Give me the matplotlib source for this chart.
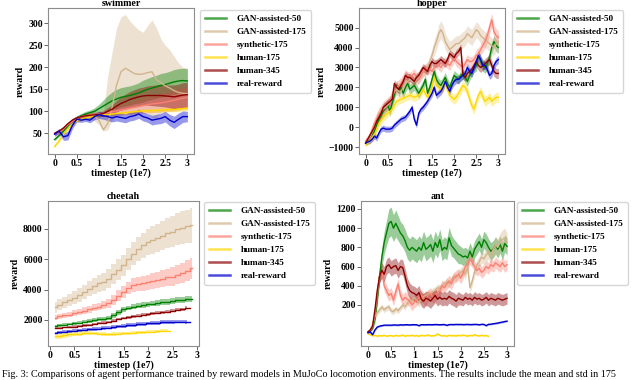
import numpy as np
import matplotlib
matplotlib.use("Agg")
import matplotlib.pyplot as plt
from matplotlib.lines import Line2D

nan = np.nan

labels = ["GAN-assisted-50", "GAN-assisted-175", "synthetic-175", "human-175", "human-345", "real-reward"]
colors = ["green", "tan", "salmon", "gold", "darkred", "mediumblue"]
titles = ["swimmer", "hopper", "cheetah", "ant"]

# ---------------- swimmer (t = 0 .. 3.0 step 0.1) ----------------
swimmer_t = np.linspace(0, 3.0, 31)
swimmer_gan50 = [36, 45, 55, 67, 78, 85, 90, 94, 97, 100, 106, 112, 118, 124, 128, 132, 134, 136, 139, 142,
                 146, 150, 153, 156, 159, 161, 164, 167, 169, 170, 169]
swimmer_gan50_w = [3, 3, 4, 4, 5, 5, 5, 6, 6, 8, 10, 14, 18, 20, 22, 22, 22, 22, 22, 23,
                   25, 25, 26, 26, 27, 27, 27, 28, 28, 28, 28]
swimmer_gan175 = [50, 55, 62, 70, 78, 85, 88, 90, 91, 90, 80, 58, 72, 110, 160, 190, 198, 192, 186, 184,
                  185, 188, 190, 172, 165, 158, 153, 147, 143, 141, 140]
swimmer_gan175_lo = [45, 50, 57, 65, 73, 80, 82, 83, 82, 78, 70, 55, 58, 80, 92, 95, 98, 100, 100, 100,
                     102, 98, 86, 86, 98, 104, 100, 100, 102, 104, 104]
swimmer_gan175_hi = [55, 60, 67, 75, 83, 90, 94, 97, 100, 102, 100, 95, 180, 235, 290, 315, 320, 305, 295, 285,
                     280, 295, 308, 290, 265, 250, 240, 225, 210, 200, 198]
swimmer_synth175 = [48, 52, 60, 70, 78, 84, 88, 90, 92, 93, 94, 95, 97, 99, 101, 103, 105, 107, 109, 111,
                    113, 115, 117, 118, 119, 121, 123, 125, 128, 130, 132]
swimmer_synth175_w = [3, 3, 3, 4, 4, 4, 4, 5, 5, 5, 6, 7, 8, 10, 11, 12, 13, 14, 16, 17,
                      18, 19, 20, 20, 21, 22, 22, 23, 24, 24, 25]
swimmer_human175 = [20, 33, 48, 60, 70, 78, 82, 85, 87, 89, 91, 92, 93, 94, 95, 96, 97, 98, 99, 100,
                    101, 101, 102, 102, 103, 103, 104, 104, 105, 106, 107]
swimmer_human175_w = [3, 3, 3, 3, 3, 3, 3, 3, 3, 3, 3, 3, 3, 3, 3, 4, 4, 4, 4, 4,
                      4, 4, 4, 4, 4, 5, 5, 5, 5, 5, 5]
swimmer_human345 = [50, 55, 62, 72, 80, 85, 88, 90, 91, 92, 93, 95, 100, 105, 112, 118, 122, 127, 130, 133,
                    135, 136, 136, 136, 136, 135, 134, 133, 135, 137, 138]
swimmer_human345_w = [3, 3, 3, 3, 4, 4, 4, 4, 5, 5, 5, 6, 8, 10, 13, 15, 17, 18, 19, 20,
                      20, 22, 23, 24, 25, 25, 26, 27, 27, 28, 28]
swimmer_real = [48, 55, 42, 45, 68, 82, 80, 82, 80, 88, 92, 90, 88, 85, 88, 86, 84, 88, 90, 94,
                88, 85, 80, 82, 84, 88, 80, 75, 82, 88, 88]
swimmer_real_w = [5, 6, 8, 10, 8, 6, 5, 5, 6, 7, 8, 8, 9, 9, 10, 10, 10, 10, 10, 10,
                  10, 10, 11, 11, 12, 12, 13, 14, 14, 13, 12]

# ---------------- hopper (t = 0 .. 3.0 step 0.05) ----------------
hopper_t = np.linspace(0, 3.0, 61)
hopper_gan50 = [-800, -650, -500, -350, -200, 100, 400, 600, 800, 1000,
                1100, 800, 1200, 1600, 2100, 1800, 2000, 1700, 2000, 2200,
                1900, 2000, 2100, 1900, 1700, 1900, 2100, 2400, 1700, 2000,
                2400, 2800, 2400, 2200, 2100, 2300, 2500, 2200, 2000, 2300,
                2600, 2500, 2400, 2600, 2700, 2500, 2300, 2600, 2800, 3000,
                3100, 3600, 3300, 3100, 3000, 3200, 3500, 4000, 4300, 4100,
                4000]
hopper_gan175 = [-800, -650, -500, -250, 0, 400, 700, 800, 900, 1000,
                 1100, 1300, 1600, 1800, 1900, 1800, 1800, 2000, 2200, 2300,
                 2400, 2300, 2300, 2400, 2500, 2700, 2800, 2900, 3000, 3300,
                 3600, 4000, 4300, 4700, 4900, 4700, 4300, 4100, 3900, 4000,
                 4100, 4200, 4200, 4300, 4400, 4500, 4700, 4600, 4500, 4700,
                 4900, 4800, 4600, 4500, 4400, 4300, 4200, 4100, 4000, 4200,
                 4300]
hopper_synth175 = [-700, -550, -400, -100, 200, 400, 600, 800, 1000, 1100,
                   1200, 1300, 1500, 1800, 2000, 2100, 2200, 2400, 2600, 2500,
                   2500, 2600, 2700, 2500, 2400, 2600, 2800, 2900, 3000, 2900,
                   2800, 3000, 3200, 3100, 3000, 3200, 3300, 3200, 3100, 3300,
                   3500, 3300, 3200, 3100, 3000, 3200, 3400, 3300, 3300, 3400,
                   3600, 3700, 3900, 4100, 4300, 4600, 5000, 5400, 4800, 4600,
                   4500]
hopper_human175 = [-900, -800, -700, -550, -400, -100, 200, 350, 500, 600,
                   700, 800, 900, 1100, 1300, 1350, 1400, 1450, 1500, 1550,
                   1600, 1550, 1500, 1550, 1600, 1700, 1900, 1700, 1500, 1700,
                   2000, 2500, 2100, 2000, 1900, 2000, 2200, 1900, 1600, 1500,
                   1400, 1500, 1700, 1900, 2100, 2000, 1800, 1400, 1100, 900,
                   1300, 1600, 1800, 1500, 1300, 1400, 1500, 1300, 1400, 1500,
                   1500]
hopper_human345 = [-800, -600, -400, -200, 0, 300, 500, 700, 1000, 1100,
                   1200, 1300, 1400, 2200, 2000, 1900, 2100, 2300, 2600, 2500,
                   2500, 2400, 2300, 2500, 2600, 2800, 3000, 2900, 2800, 3100,
                   3300, 3200, 3200, 3300, 3400, 3300, 3200, 3400, 3700, 3600,
                   3500, 3700, 3800, 4000, 2600, 2500, 2700, 2800, 2900, 3100,
                   3300, 3100, 3000, 3100, 3200, 3300, 3400, 3100, 2800, 2700,
                   2700]
hopper_real = [-800, -750, -700, -600, -450, -550, -300, -100, -50, -100,
               -100, -100, -50, 100, 200, 300, 400, 450, 500, 650,
               800, 1000, 400, 100, 700, 900, 1000, 1150, 1300, 1500,
               1700, 2000, 1600, 1700, 1800, 2000, 2300, 2000, 1800, 2100,
               2300, 2400, 2400, 2500, 2600, 2700, 3000, 2800, 2700, 3000,
               3300, 3600, 3400, 3100, 3100, 2900, 2600, 2700, 3100, 3300,
               3400]
hopper_gan50_w = [100, 100, 150, 150, 200, 200, 200, 250, 250, 250,
                  250, 250, 250, 250, 250, 250, 250, 250, 250, 250,
                  250, 250, 250, 250, 250, 250, 250, 250, 250, 250,
                  250, 250, 250, 250, 250, 250, 250, 250, 250, 250,
                  250, 250, 250, 250, 250, 250, 250, 250, 250, 250,
                  300, 300, 300, 300, 300, 300, 300, 300, 300, 300,
                  300]
hopper_gan175_w = [150, 150, 200, 250, 300, 300, 300, 300, 300, 300,
                   300, 300, 300, 300, 300, 300, 300, 300, 300, 300,
                   300, 300, 300, 300, 300, 300, 300, 300, 300, 300,
                   350, 400, 400, 450, 450, 450, 400, 400, 400, 400,
                   400, 400, 400, 400, 400, 400, 400, 400, 400, 400,
                   400, 400, 400, 400, 400, 400, 400, 400, 400, 400,
                   400]
hopper_synth175_w = [150, 150, 200, 250, 300, 300, 300, 300, 300, 300,
                     300, 300, 300, 300, 300, 300, 300, 300, 300, 300,
                     250, 250, 250, 250, 250, 250, 250, 250, 250, 250,
                     250, 250, 250, 250, 250, 250, 250, 250, 250, 250,
                     250, 250, 250, 250, 250, 250, 250, 250, 250, 250,
                     300, 300, 300, 300, 350, 350, 350, 350, 350, 350,
                     350]
hopper_human175_w = [100, 100, 150, 150, 200, 200, 200, 200, 200, 200,
                     200, 200, 200, 200, 200, 200, 200, 200, 200, 200,
                     200, 200, 200, 200, 200, 200, 200, 200, 200, 200,
                     250, 250, 250, 250, 250, 250, 250, 250, 250, 250,
                     250, 250, 250, 250, 250, 250, 250, 250, 250, 250,
                     250, 250, 250, 250, 250, 250, 250, 250, 250, 250,
                     250]
hopper_human345_w = [100, 100, 150, 150, 200, 200, 200, 200, 200, 200,
                     200, 200, 200, 200, 200, 200, 200, 200, 200, 200,
                     200, 200, 200, 200, 200, 200, 200, 200, 200, 200,
                     200, 200, 200, 200, 200, 200, 200, 200, 200, 200,
                     200, 200, 200, 200, 200, 200, 200, 200, 200, 200,
                     250, 250, 250, 250, 250, 250, 250, 250, 250, 250,
                     250]
hopper_real_w = [100, 100, 120, 120, 150, 150, 150, 150, 150, 150,
                 150, 150, 150, 150, 150, 150, 150, 150, 150, 150,
                 150, 150, 150, 150, 150, 150, 150, 150, 150, 150,
                 180, 180, 180, 180, 180, 180, 180, 180, 180, 180,
                 200, 200, 200, 200, 200, 200, 200, 200, 200, 200,
                 200, 200, 200, 200, 200, 200, 200, 200, 200, 200,
                 200]

# ---------------- cheetah (t = 0.1 .. 2.9 step 0.1) ----------------
cheetah_t = np.linspace(0.1, 2.9, 29)
cheetah_gan50 = [1600, 1640, 1680, 1730, 1780, 1830, 1880, 1930, 1990, 2050,
                 2080, 2120, 2300, 2500, 2700, 2790, 2870, 2930, 2980, 3030,
                 3080, 3120, 3160, 3200, 3250, 3300, 3340, 3370, 3400]
cheetah_gan50_w = [80, 80, 90, 90, 100, 100, 110, 110, 120, 120,
                   130, 130, 140, 150, 150, 160, 160, 170, 170, 180,
                   180, 190, 190, 190, 200, 200, 200, 200, 200]
cheetah_gan175 = [2830, 3000, 3150, 3300, 3450, 3650, 3850, 4050, 4250, 4400,
                  4500, 4700, 5000, 5300, 5600, 6000, 6350, 6650, 6900, 7100,
                  7250, 7400, 7550, 7700, 7800, 7950, 8050, 8150, 8240]
cheetah_gan175_w = [350, 370, 390, 410, 430, 450, 470, 500, 530, 560,
                    590, 620, 650, 680, 700, 730, 760, 790, 820, 860,
                    900, 930, 960, 990, 1020, 1050, 1080, 1110, 1150]
cheetah_synth175 = [2150, 2230, 2300, 2360, 2440, 2530, 2620, 2710, 2800, 2880,
                    2980, 3100, 3300, 3600, 3860, 4100, 4300, 4380, 4410, 4480,
                    4560, 4640, 4720, 4800, 4850, 4980, 5100, 5250, 5390]
cheetah_synth175_w = [150, 160, 170, 180, 190, 200, 210, 220, 230, 250,
                      260, 280, 320, 360, 400, 420, 440, 460, 480, 500,
                      520, 540, 560, 580, 600, 620, 650, 680, 700]
cheetah_human175 = [950, 980, 1010, 1050, 1080, 1110, 1150, 1160, 1120, 1100,
                    1080, 1070, 1080, 1100, 1120, 1140, 1160, 1180, 1200, 1220,
                    1240, 1260, 1290, 1300, nan, nan, nan, nan, nan]
cheetah_human175_w = [200, 200, 180, 160, 150, 140, 130, 120, 110, 110,
                      100, 100, 100, 100, 100, 100, 100, 100, 100, 100,
                      100, 100, 100, 100, nan, nan, nan, nan, nan]
cheetah_human345 = [1450, 1480, 1510, 1540, 1570, 1600, 1640, 1680, 1720, 1790,
                    1830, 1870, 1960, 2060, 2130, 2180, 2230, 2280, 2330, 2390,
                    2430, 2470, 2510, 2550, 2610, 2660, 2710, 2800, nan]
cheetah_human345_w = [60, 60, 60, 70, 70, 70, 70, 80, 80, 80,
                      80, 80, 90, 90, 90, 90, 90, 100, 100, 100,
                      100, 100, 100, 100, 100, 100, 100, 100, nan]
cheetah_real = [1150, 1180, 1220, 1260, 1290, 1320, 1350, 1380, 1400, 1440,
                1470, 1500, 1540, 1580, 1620, 1650, 1680, 1710, 1740, 1770,
                1800, 1830, 1850, 1870, 1890, 1900, 1900, 1890, nan]
cheetah_real_w = [80, 80, 90, 90, 100, 100, 100, 110, 110, 110,
                  110, 120, 120, 120, 120, 120, 120, 130, 130, 130,
                  130, 130, 130, 130, 130, 130, 130, 130, nan]

# ---------------- ant (t = 0 .. 3.0 step 0.05) ----------------
ant_t = np.linspace(0, 3.0, 61)
ant_gan50 = [-80, -70, -40, 50, 250, 500, 700, 850, 950, 1050,
             1070, 1000, 1050, 1000, 950, 920, 870, 800, 770, 800,
             780, 760, 800, 770, 850, 780, 800, 830, 760, 850,
             800, 880, 770, 800, 780, 900, 820, 790, 760, 730,
             720, 700, 710, 690, 760, 700, 780, 820, 860, 800,
             880, 850, 800, 760, 780, 820, 780, 830, 760, 840,
             810]
ant_gan50_w = [10, 10, 20, 40, 60, 80, 100, 120, 130, 150,
               150, 140, 140, 130, 120, 120, 120, 120, 120, 120,
               120, 120, 120, 120, 120, 120, 120, 120, 120, 120,
               110, 110, 110, 110, 110, 110, 110, 100, 100, 100,
               90, 90, 90, 90, 90, 90, 90, 90, 90, 90,
               90, 90, 90, 90, 90, 90, 90, 90, 90, 90,
               90]
ant_gan175 = [-80, -60, 0, 80, 120, 150, 180, 150, 170, 180,
              140, 130, 160, 140, 170, 200, 180, 220, 250, 240,
              280, 250, 220, 260, 290, 300, 320, 310, 340, 350,
              380, 370, 400, 420, 440, 420, 460, 500, 480, 520,
              540, 560, 520, 600, 380, 450, 550, 620, 650, 700,
              680, 720, 750, 700, 780, 820, 800, 850, 880, 900,
              850]
ant_gan175_w = [10, 10, 20, 20, 30, 30, 30, 30, 30, 30,
                30, 30, 30, 30, 30, 30, 30, 30, 30, 30,
                40, 40, 40, 40, 40, 40, 40, 40, 40, 40,
                40, 40, 40, 40, 40, 40, 40, 40, 40, 40,
                50, 50, 50, 50, 50, 50, 50, 50, 60, 60,
                60, 70, 70, 80, 80, 90, 90, 100, 100, 100,
                100]
ant_synth175 = [-80, -60, -30, 100, 300, 500, 550, 400, 350, 300,
                320, 250, 340, 420, 300, 250, 280, 260, 240, 200,
                230, 250, 280, 300, 270, 250, 300, 320, 280, 300,
                330, 350, 400, 380, 420, 450, 420, 480, 500, 520,
                480, 530, 600, 620, 680, 650, 600, 560, 580, 540,
                560, 600, 580, 620, 600, 640, 620, 600, 640, 600,
                620]
ant_synth175_w = [10, 10, 20, 30, 50, 60, 60, 60, 60, 60,
                  60, 60, 60, 60, 60, 60, 60, 60, 60, 60,
                  60, 60, 60, 60, 60, 60, 60, 60, 60, 60,
                  60, 60, 60, 60, 60, 60, 60, 60, 60, 60,
                  60, 60, 60, 60, 60, 60, 60, 60, 60, 60,
                  60, 60, 60, 60, 60, 60, 60, 60, 60, 60,
                  60]
ant_human175 = [-100, -110, -120, -115, -125, -118, -122, -115, -125, -120,
                -118, -125, -115, -122, -120, -112, -125, -118, -120, -115,
                -122, -118, -125, -115, -120, -118, -112, -122, -120, -118,
                -100, -115, -122, -118, -125, -115, -120, -118, -122, -115,
                -120, -112, -118, -125, -115, -120, -110, -118, -122, -115,
                -120, -118, -125, nan, nan, nan, nan, nan, nan, nan,
                nan]
ant_human175_w = [8, 8, 8, 8, 8, 8, 8, 8, 8, 8,
                  8, 8, 8, 8, 8, 8, 8, 8, 8, 8,
                  8, 8, 8, 8, 8, 8, 8, 8, 8, 8,
                  8, 8, 8, 8, 8, 8, 8, 8, 8, 8,
                  8, 8, 8, 8, 8, 8, 8, 8, 8, 8,
                  8, 8, 8, nan, nan, nan, nan, nan, nan, nan,
                  nan]
ant_human345 = [-80, -60, -20, 150, 350, 500, 560, 520, 600, 620,
                580, 600, 610, 560, 600, 590, 500, 400, 350, 330,
                320, 300, 330, 260, 240, 270, 260, 240, 270, 300,
                260, 280, 260, 270, 260, 290, 270, 260, 240, 270,
                260, 250, 280, 260, 270, 250, 280, 260, 270, 250,
                260, 280, 250, 270, 260, 250, 270, 260, 250, 260,
                270]
ant_human345_w = [10, 10, 20, 40, 60, 70, 80, 80, 80, 80,
                  80, 80, 80, 80, 80, 80, 80, 80, 80, 75,
                  75, 75, 75, 75, 75, 75, 75, 75, 75, 75,
                  70, 70, 70, 70, 70, 70, 70, 70, 70, 70,
                  60, 60, 60, 60, 60, 60, 60, 60, 60, 60,
                  60, 60, 60, 60, 60, 60, 60, 60, 60, 60,
                  60]
ant_real = [-90, -80, -110, -60, -30, -20, -15, -10, -10, -10,
            -10, -8, -8, -10, -6, -8, -6, -5, -8, -5,
            -5, -6, -15, -5, -5, -6, -4, -5, -5, -3,
            -4, -6, -4, -3, -12, -4, -3, -4, -2, -3,
            -2, -4, -3, -2, -4, -3, -2, -2, -6, -1,
            -2, -15, -1, 0, 5, 8, 12, 18, 22, 28,
            32]
ant_real_w = [10, 10, 10, 10, 8, 8, 8, 8, 8, 8,
              8, 8, 8, 8, 8, 8, 8, 8, 8, 8,
              8, 8, 8, 8, 8, 8, 8, 8, 8, 8,
              8, 8, 8, 8, 8, 8, 8, 8, 8, 8,
              8, 8, 8, 8, 8, 8, 8, 8, 8, 8,
              8, 8, 8, 8, 8, 8, 8, 8, 8, 8,
              8]

caption = ("Fig. 3: Comparisons of agent performance trained by reward models in MuJoCo locomotion "
           "environments. The results include the mean and std in 175")

# ---------------- style ----------------
plt.rcParams['font.family'] = ['Liberation Serif', 'DejaVu Serif']
plt.rcParams['font.weight'] = 'bold'
plt.rcParams['axes.labelweight'] = 'bold'
plt.rcParams['axes.titleweight'] = 'bold'

fig = plt.figure(figsize=(6.4, 3.8), dpi=100)
W, H = 640.0, 380.0


def px_axes(l, t, r, b):
    return fig.add_axes([l / W, 1 - b / H, (r - l) / W, (b - t) / H])


ax_sw = px_axes(48, 8, 194, 154)
ax_ho = px_axes(359, 8, 505, 154)
ax_ch = px_axes(48, 201, 199, 346)
ax_an = px_axes(361, 201, 514, 346)


def band(ax, t, m, w, c, alpha=0.4, step=None):
    m = np.asarray(m, float)
    w = np.asarray(w, float)
    ax.fill_between(t, m - w, m + w, color=c, alpha=alpha, lw=0, step=step)


def style(ax, title):
    ax.set_title(title, fontsize=7.2, pad=1.5)
    ax.set_xlabel("timestep (1e7)", fontsize=7.2, labelpad=0)
    ax.set_ylabel("reward", fontsize=7.2, labelpad=2.5)
    ax.tick_params(labelsize=7, length=2.8, width=0.6, pad=1, color='0.3')
    for s in ax.spines.values():
        s.set_color('0.55')
        s.set_linewidth(0.8)
    ax.set_xticks([0, 0.5, 1, 1.5, 2, 2.5, 3])
    ax.set_xticklabels(["0", "0.5", "1", "1.5", "2", "2.5", "3"])


def legend(ax, x, y):
    handles = [Line2D([], [], color=c, lw=1.8, alpha=0.7) for c in colors]
    ax.legend(handles, labels, loc='upper left', bbox_to_anchor=(x / W, 1 - y / H),
              bbox_transform=fig.transFigure, borderaxespad=0, fontsize=6.6,
              labelspacing=0.5, handlelength=2.3, handletextpad=1.2,
              borderpad=0.5, frameon=True, edgecolor='0.8')


# swimmer
sw_means = [swimmer_gan50, swimmer_gan175, swimmer_synth175, swimmer_human175, swimmer_human345, swimmer_real]
sw_ws = [swimmer_gan50_w, None, swimmer_synth175_w, swimmer_human175_w, swimmer_human345_w, swimmer_real_w]
ax_sw.fill_between(swimmer_t, swimmer_gan175_lo, swimmer_gan175_hi, color='tan', alpha=0.4, lw=0)
for m, w, c in zip(sw_means, sw_ws, colors):
    if w is not None:
        band(ax_sw, swimmer_t, m, w, c)
for m, c in zip(sw_means, colors):
    ax_sw.plot(swimmer_t, m, color=c, lw=1.0)
ax_sw.set_ylim(3, 335)
ax_sw.set_yticks([50, 100, 150, 200, 250, 300])
style(ax_sw, "swimmer")
legend(ax_sw, 200, 10)

# hopper
ho_means = [hopper_gan50, hopper_gan175, hopper_synth175, hopper_human175, hopper_human345, hopper_real]
ho_ws = [hopper_gan50_w, hopper_gan175_w, hopper_synth175_w, hopper_human175_w, hopper_human345_w, hopper_real_w]
for m, w, c in zip(ho_means, ho_ws, colors):
    band(ax_ho, hopper_t, m, w, c, alpha=0.35)
for m, c in zip(ho_means, colors):
    ax_ho.plot(hopper_t, m, color=c, lw=1.0)
ax_ho.set_ylim(-1350, 5990)
ax_ho.set_yticks([-1000, 0, 1000, 2000, 3000, 4000, 5000])
style(ax_ho, "hopper")
legend(ax_ho, 512, 10)

# cheetah
ch_means = [cheetah_gan50, cheetah_gan175, cheetah_synth175, cheetah_human175, cheetah_human345, cheetah_real]
ch_ws = [cheetah_gan50_w, cheetah_gan175_w, cheetah_synth175_w, cheetah_human175_w, cheetah_human345_w, cheetah_real_w]
for m, w, c in zip(ch_means, ch_ws, colors):
    band(ax_ch, cheetah_t, m, w, c, alpha=0.4, step='mid')
for m, c in zip(ch_means, colors):
    ax_ch.plot(cheetah_t, m, color=c, lw=1.0, drawstyle='steps-mid')
ax_ch.set_ylim(290, 9820)
ax_ch.set_yticks([2000, 4000, 6000, 8000])
style(ax_ch, "cheetah")
legend(ax_ch, 204, 202)

# ant
an_means = [ant_gan50, ant_gan175, ant_synth175, ant_human175, ant_human345, ant_real]
an_ws = [ant_gan50_w, ant_gan175_w, ant_synth175_w, ant_human175_w, ant_human345_w, ant_real_w]
for m, w, c in zip(an_means, an_ws, colors):
    band(ax_an, ant_t, m, w, c, alpha=0.4)
for m, c in zip(an_means, colors):
    ax_an.plot(ant_t, m, color=c, lw=1.0)
ax_an.set_ylim(-227, 1283)
ax_an.set_yticks([200, 400, 600, 800, 1000, 1200])
style(ax_an, "ant")
legend(ax_an, 517, 202)

fig.text(0.003, 0.002, caption, fontsize=7.3, fontweight='normal', va='bottom', ha='left')

fig.savefig("out.png", dpi=100)
